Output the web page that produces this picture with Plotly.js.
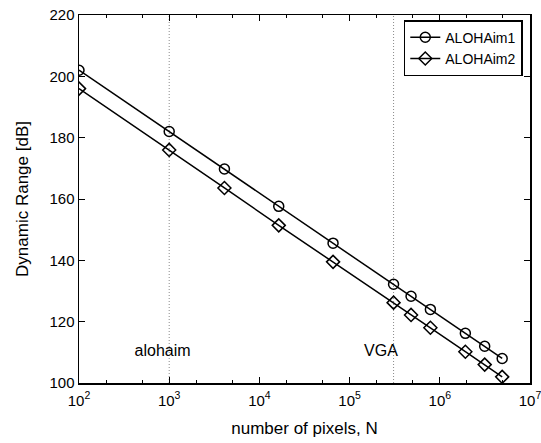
<!DOCTYPE html>
<html>
<head>
<meta charset="utf-8">
<script src="https://cdn.plot.ly/plotly-3.0.1.min.js"></script>
<style>html,body{margin:0;padding:0;background:#fff;}#chart{width:541px;height:443px;}</style>
</head>
<body>
<div id="chart"></div>
<script>
// Data
const pixels = [100, 1000, 4096, 16384, 65536, 307200, 480000, 786432, 1920000, 3145728, 4915200];
const aloha1 = [202, 182, 169.8, 157.6, 145.6, 132.2, 128.3, 124.0, 116.2, 112.0, 108.0];
const aloha2 = [196, 176, 163.6, 151.4, 139.5, 126.2, 122.2, 118.0, 110.2, 106.0, 102.0];
const seriesNames = ['ALOHAim1', 'ALOHAim2'];
const markerLines = [1000, 307200];
const markerLabels = ['alohaim', 'VGA'];
const labelX = [844, 223000];
const labelY = [110, 110];
const xTickVals = [100, 1000, 10000, 100000, 1000000, 10000000];
const xTickText = ['10<sup>2</sup>', '10<sup>3</sup>', '10<sup>4</sup>', '10<sup>5</sup>', '10<sup>6</sup>', '10<sup>7</sup>'];
const yTickVals = [100, 120, 140, 160, 180, 200, 220];

const FONT = 'Liberation Sans, Arial, Helvetica, sans-serif';
const traces = [];
markerLines.forEach(v => {
  traces.push({x: [v, v], y: [100, 220], mode: 'lines', showlegend: false, hoverinfo: 'skip',
    line: {color: '#8a8a8a', width: 1, dash: '1px,2px'}});
});
traces.push({x: pixels, y: aloha1, name: seriesNames[0], mode: 'lines+markers',
  line: {color: '#000', width: 1.5},
  marker: {symbol: 'circle-open', size: 10, color: '#000', line: {width: 1.5, color: '#000'}}});
traces.push({x: pixels, y: aloha2, name: seriesNames[1], mode: 'lines+markers',
  line: {color: '#000', width: 1.5},
  marker: {symbol: 'diamond-open', size: 10, color: '#000', line: {width: 1.5, color: '#000'}}});
traces.push({x: labelX, y: labelY, text: markerLabels, mode: 'text', showlegend: false, hoverinfo: 'skip',
  textposition: 'middle center', textfont: {family: FONT, size: 16, color: '#000'}});

const layout = {
  width: 541, height: 443,
  margin: {l: 79, r: 11, t: 15, b: 60},
  paper_bgcolor: '#fff', plot_bgcolor: '#fff',
  font: {family: FONT, size: 14, color: '#000'},
  showlegend: true,
  legend: {x: 0.984, xanchor: 'right', y: 0.986, yanchor: 'top', bgcolor: '#fff',
    bordercolor: '#000', borderwidth: 1.5, font: {family: FONT, size: 14, color: '#000'},
    itemwidth: 30, tracegroupgap: 0},
  xaxis: {type: 'log', range: [2, 7], tickvals: xTickVals, ticktext: xTickText,
    ticks: 'inside', ticklen: 6, tickwidth: 1, tickcolor: '#000', ticklabelstandoff: 3,
    ticklabeloverflow: 'allow',
    showline: true, linecolor: '#000', linewidth: 1.5, mirror: 'ticks', showgrid: false, zeroline: false,
    tickfont: {family: FONT, size: 15, color: '#000'},
    minor: {ticks: 'inside', ticklen: 3, tickcolor: '#000', tickwidth: 1, showgrid: false},
    title: {text: 'number of pixels, N', font: {family: FONT, size: 17, color: '#000'}, standoff: 14}},
  yaxis: {range: [100, 220], tickvals: yTickVals,
    ticks: 'inside', ticklen: 6, tickwidth: 1, tickcolor: '#000',
    showline: true, linecolor: '#000', linewidth: 1.5, mirror: 'ticks', showgrid: false, zeroline: false,
    tickfont: {family: FONT, size: 15, color: '#000'},
    title: {text: 'Dynamic Range [dB]', font: {family: FONT, size: 17, color: '#000'}, standoff: 16}}
};
Plotly.newPlot('chart', traces, layout, {displayModeBar: false, staticPlot: true});
</script>
</body>
</html>
